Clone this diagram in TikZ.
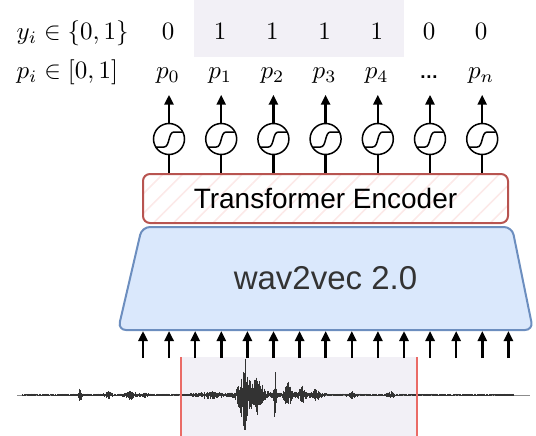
\documentclass[tikz,border=0pt]{standalone}
\usepackage{fontspec}
\newfontfamily\boxfont{Liberation Sans}
\usetikzlibrary{arrows.meta, calc, patterns.meta}
\definecolor{encred}{HTML}{B85450}
\definecolor{enchatch}{HTML}{F8CECC}
\definecolor{wavblue}{HTML}{DAE8FC}
\definecolor{wavedge}{HTML}{6C8EBF}
\definecolor{hilite}{HTML}{F2F0F6}
\definecolor{cutred}{HTML}{EA6B66}
\newcommand\pdots{{\boxfont\bfseries\fontsize{7.5}{8}\selectfont …}}
\tikzset{declare function={bump(\t,\c,\w)=1/(1+(min(abs(\t-\c)/\w,10))^2)^2;}}
\tikzset{lbl/.style={scale=2.5, anchor=base, inner sep=0pt}}
\tikzset{sig/.style={circle, draw, line width=1.5pt, minimum size=31pt, inner sep=0pt}}
\tikzset{arr/.style={draw, -{Triangle[length=10pt,width=9pt]}, line width=2.5pt}}
\tikzset{encbox/.style={draw=encred, line width=2pt, rounded corners=7pt, pattern={Lines[angle=45,distance=14pt,line width=1.6pt]}, pattern color=enchatch!45, minimum width=365pt, minimum height=49pt, font=\boxfont\fontsize{28}{32}\selectfont}}
\tikzset{w2vbox/.style={draw=wavedge, fill=wavblue, line width=2pt, rounded corners=8pt}}
\begin{document}
\begin{tikzpicture}[x=1pt,y=-1pt]
	\useasboundingbox (0,0) rectangle (536,436);
	% labelled frames
	\fill[hilite] (194,0) rectangle (404,57);
	\fill[hilite] (181,357) rectangle (417,436);
%
	\node[lbl, anchor=base west] (ylab) at (16,40) {$y_i \in \{0,1\}$};
	\node[lbl, anchor=base west] (plab) at (16,79) {$p_i \in [0,1]$};
	\foreach \y [count=\i from 0] in {0,1,1,1,1,0,0}
		\node[lbl] (y\i) at (168+52.2*\i,40) {$\y$};
	\foreach \p [count=\i from 0] in {$p_0$,$p_1$,$p_2$,$p_3$,$p_4$,\pdots,$p_n$}
		\node[lbl] (p\i) at (168+52.2*\i,79) {\p};
%
	\node[encbox] (enc) at (325.5,198.5) {Transformer Encoder};
	\draw[w2vbox] (118,330) -- (142,227) -- (512,227) -- (533,330) -- cycle;
	\coordinate (w2vbot) at (325.5,331);
	\node[font=\boxfont\fontsize{33}{38}\selectfont, text=black!80] (w2v) at (325.5,278.5) {wav2vec 2.0};
%
	\foreach \i in {0,...,6} {
		\node[sig] (s\i) at (169+52.2*\i,139) {};
		\draw[line width=1.5pt] ($(s\i)+(-13.5,8)$) -- ++(8.5,0)
			.. controls +(6,0) and +(-6,0) .. ++(10,-15) -- ($(s\i)+(13.5,-7)$);
		\draw[line width=2.5pt] (s\i.south) -- (s\i.south |- enc.north);
		\draw[arr] (s\i.north) -- ++(0,-28);
	}
	% inputs from the waveform
	\foreach \k in {0,...,14} {
		\coordinate (in\k) at (143+26.1*\k,358);
		\draw[arr] (in\k) -- (in\k |- w2vbot);
	}
%
	\draw[black!45, line width=0.6pt] (17,395) -- (530,395);
	\pgfmathsetseed{7}
	\foreach \x in {22,22.6,...,514} {
		\pgfmathsetmacro\e{1.3 + 7*bump(\x,80,1.5) + 3*bump(\x,108,4)
			+ 4*bump(\x,130,6) + 3*bump(\x,145,4) + 3*bump(\x,210,15)
			+ 36*bump(\x,244,6) + 18*bump(\x,257,8) + 24*bump(\x,275,1.5)
			+ 12*bump(\x,288,5) + 8*bump(\x,302,5) + 5*bump(\x,316,6)
			+ 3*bump(\x,352,4) + 3*bump(\x,390,4)}
		\pgfmathsetmacro\a{\e*(0.2+0.8*rnd)}
		\pgfmathsetmacro\b{\e*(0.2+0.8*rnd)}
		\draw[black!80, line width=0.5pt] (\x,395-\a) -- (\x,395+\b);
	}
	\draw[cutred, line width=1.5pt] (181,357) -- (181,436);
	\draw[cutred, line width=1.5pt] (417,357) -- (417,436);
\end{tikzpicture}
\end{document}
